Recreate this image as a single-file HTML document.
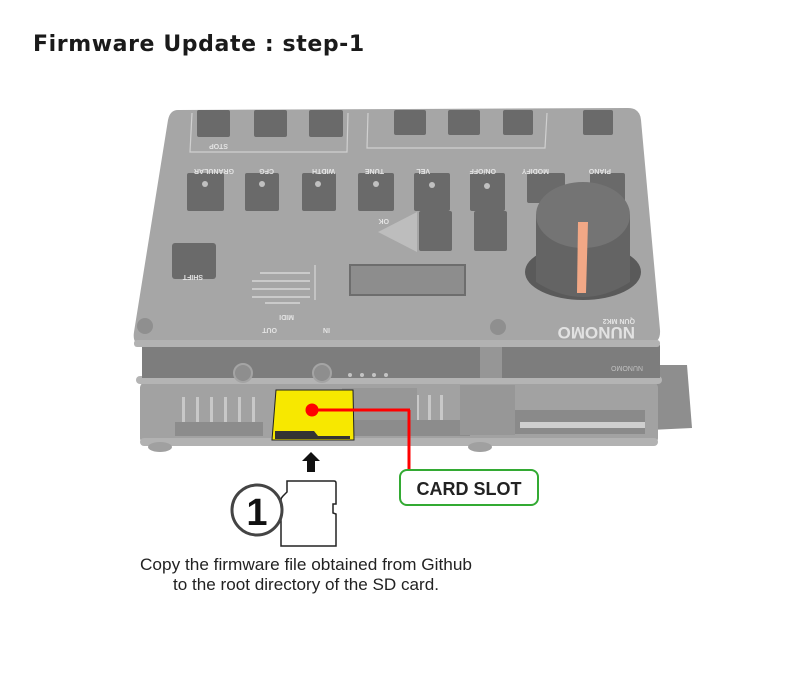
<!DOCTYPE html>
<html><head><meta charset="utf-8"><style>
body{margin:0;background:#fff;width:800px;height:676px;overflow:hidden;font-family:"Liberation Sans",sans-serif}
</style></head><body>
<svg width="800" height="676" viewBox="0 0 800 676" xmlns="http://www.w3.org/2000/svg">
<text x="33" y="51" font-family="DejaVu Sans, Liberation Sans, sans-serif" font-weight="bold" font-size="22" fill="#1a1a1a" letter-spacing="0.6">Firmware Update : step-1</text>

<!-- extension board right -->
<polygon points="650,365 687,365 692,428 650,430" fill="#8e8e8e"/>
<!-- lower board -->
<rect x="140" y="382" width="518" height="62" rx="6" fill="#a2a2a2"/>
<rect x="140" y="438" width="518" height="8" rx="4" fill="#b2b2b2"/>
<ellipse cx="160" cy="447" rx="12" ry="5" fill="#a0a0a0"/>
<ellipse cx="480" cy="447" rx="12" ry="5" fill="#a0a0a0"/>
<!-- pins -->
<g fill="#c8c8c8">
<rect x="182" y="397" width="3" height="28"/><rect x="196" y="397" width="3" height="28"/><rect x="210" y="397" width="3" height="28"/><rect x="224" y="397" width="3" height="28"/><rect x="238" y="397" width="3" height="28"/><rect x="252" y="397" width="3" height="28"/>
<rect x="402" y="395" width="3" height="28"/><rect x="416" y="395" width="3" height="28"/><rect x="428" y="395" width="3" height="28"/><rect x="440" y="395" width="3" height="28"/>
</g>
<rect x="175" y="422" width="88" height="14" fill="#8c8c8c"/>
<rect x="345" y="420" width="125" height="16" fill="#8c8c8c"/>
<rect x="342" y="388" width="75" height="32" fill="#979797"/>
<rect x="460" y="385" width="55" height="50" fill="#979797"/>
<rect x="515" y="410" width="130" height="24" fill="#8a8a8a"/>
<rect x="520" y="422" width="125" height="6" fill="#cfcfcf"/>
<!-- middle plate -->
<rect x="136" y="376" width="526" height="8" rx="4" fill="#b4b4b4"/>
<rect x="142" y="345" width="518" height="33" fill="#7d7d7d"/>
<rect x="480" y="345" width="22" height="33" fill="#969696"/>
<circle cx="243" cy="373" r="9" fill="#8e8e8e" stroke="#a4a4a4" stroke-width="2"/>
<circle cx="322" cy="373" r="9" fill="#8e8e8e" stroke="#a4a4a4" stroke-width="2"/>
<g fill="#c4c4c4"><circle cx="350" cy="375" r="2"/><circle cx="362" cy="375" r="2"/><circle cx="374" cy="375" r="2"/><circle cx="386" cy="375" r="2"/></g>
<text x="617" y="370" font-size="7" fill="#c0c0c0" transform="rotate(180 630 368)">NUNOMO</text>
<!-- top plate -->
<path d="M178,110 L628,108 Q640,108 641,120 L660,330 Q661,344 648,344 L143,345 Q132,345 134,332 L168,120 Q170,110 178,110Z" fill="#a6a6a6"/>
<rect x="134" y="340" width="526" height="7" rx="3" fill="#b2b2b2"/>
<circle cx="145" cy="326" r="8" fill="#8f8f8f"/><circle cx="498" cy="327" r="8" fill="#8f8f8f"/>
<!-- button outlines -->
<g fill="none" stroke="#d0d0d0" stroke-width="1.2">
<path d="M192,113 L190,152 L347,152 L348,113"/>
<path d="M368,113 L367,148 L545,148 L547,113"/>
</g>
<g fill="#6a6a6a">
<rect x="197" y="110" width="33" height="27" rx="2"/><rect x="254" y="110" width="33" height="27" rx="2"/><rect x="309" y="110" width="34" height="27" rx="2"/>
<rect x="394" y="110" width="32" height="25" rx="2"/><rect x="448" y="110" width="32" height="25" rx="2"/><rect x="503" y="110" width="30" height="25" rx="2"/><rect x="583" y="110" width="30" height="25" rx="2"/>
<rect x="187" y="173" width="37" height="38" rx="2"/><rect x="245" y="173" width="34" height="38" rx="2"/><rect x="302" y="173" width="34" height="38" rx="2"/><rect x="358" y="173" width="36" height="38" rx="2"/><rect x="414" y="173" width="36" height="38" rx="2"/><rect x="470" y="173" width="35" height="38" rx="2"/>
<rect x="527" y="173" width="38" height="30" rx="2"/><rect x="590" y="173" width="35" height="30" rx="2"/>
<rect x="419" y="211" width="33" height="40" rx="2"/><rect x="474" y="211" width="33" height="40" rx="2"/>
<rect x="172" y="243" width="44" height="36" rx="3"/>
</g>
<g fill="#c0c0c0"><circle cx="205" cy="184" r="3"/><circle cx="262" cy="184" r="3"/><circle cx="318" cy="184" r="3"/><circle cx="376" cy="184" r="3"/><circle cx="432" cy="185" r="3"/><circle cx="487" cy="186" r="3"/></g>
<polygon points="417,212 417,252 378,232" fill="#bdbdbd"/>
<rect x="350" y="265" width="115" height="30" fill="#8d8d8d" stroke="#6d6d6d" stroke-width="2"/>
<line x1="315" y1="265" x2="315" y2="300" stroke="#e0e0e0" stroke-width="1"/>
<g font-size="7" font-weight="bold" fill="#e4e4e4">
<text transform="rotate(180 214 147)" x="200" y="150">STOP</text>
<text transform="rotate(180 210 172)" x="186" y="175">GRANULAR</text>
<text transform="rotate(180 264 172)" x="254" y="175">CFG</text>
<text transform="rotate(180 320 172)" x="305" y="175">WIDTH</text>
<text transform="rotate(180 373 172)" x="362" y="175">TUNE</text>
<text transform="rotate(180 421 172)" x="412" y="175">VEL</text>
<text transform="rotate(180 479 172)" x="462" y="175">ON/OFF</text>
<text transform="rotate(180 532 172)" x="515" y="175">MODIFY</text>
<text transform="rotate(180 598 172)" x="585" y="175">PIANO</text>
<text transform="rotate(180 383 222)" x="377" y="225">OK</text>
<text transform="rotate(180 190 278)" x="177" y="281">SHIFT</text>
<text transform="rotate(180 265 331)" x="253" y="334">OUT</text>
<text transform="rotate(180 324 331)" x="318" y="334">IN</text>
<text transform="rotate(180 286 318)" x="278" y="321">MIDI</text>
<text transform="rotate(180 620 322)" x="605" y="325">QUN MK2</text>
</g>
<text transform="rotate(180 590 333)" x="545" y="339" font-size="17" font-weight="bold" fill="#e2e2e2">NUNOMO</text>
<g stroke="#e0e0e0" stroke-width="1.3"><line x1="252" y1="297" x2="310" y2="297"/><line x1="252" y1="289" x2="310" y2="289"/><line x1="252" y1="281" x2="310" y2="281"/><line x1="260" y1="273" x2="310" y2="273"/><line x1="265" y1="303" x2="300" y2="303"/></g>
<!-- knob -->
<ellipse cx="583" cy="272" rx="58" ry="28" fill="#5a5a5a"/>
<path d="M536,215 L536,282 Q583,312 630,282 L630,215Z" fill="#646464"/>
<ellipse cx="583" cy="215" rx="47" ry="33" fill="#747474"/>
<polygon points="578,222 588,222 586,293 577,293" fill="#f2a886"/>
<!-- card -->
<polygon points="276,390 353,390 354,440 272,440" fill="#f7e800" stroke="#222" stroke-width="1"/>
<polygon points="275,431 314,431 318,436 350,436 350,439 275,439" fill="#333"/>
<line x1="312" y1="410" x2="410" y2="410" stroke="#f00" stroke-width="3"/>
<line x1="409" y1="410" x2="409" y2="470" stroke="#f00" stroke-width="3"/>
<circle cx="312" cy="410" r="6.5" fill="#f00"/>
<rect x="400" y="470" width="138" height="35" rx="7" fill="#fff" stroke="#33aa33" stroke-width="2"/>
<text x="469" y="495" text-anchor="middle" font-size="18" font-weight="bold" fill="#222">CARD SLOT</text>
<!-- arrow -->
<polygon points="311,452 320,461 315,461 315,472 307,472 307,461 302,461" fill="#111"/>
<!-- sd card -->
<path d="M287,481 L334,481 Q336,481 336,483 L336,504 L333,504 L333,513 L336,514 L336,546 L281,546 L281,500 Q281,498 283,496 L287,492Z" fill="#fff" stroke="#222" stroke-width="1.5"/>
<circle cx="257" cy="510" r="25" fill="#fff" stroke="#444" stroke-width="3"/>
<text x="257" y="525" text-anchor="middle" font-size="38" font-weight="bold" fill="#111">1</text>
<text x="306" y="570" text-anchor="middle" font-size="16.5" fill="#222" textLength="332" lengthAdjust="spacingAndGlyphs">Copy the firmware file obtained from Github</text>
<text x="306" y="590" text-anchor="middle" font-size="16.5" fill="#222" textLength="266" lengthAdjust="spacingAndGlyphs">to the root directory of the SD card.</text>
</svg>
</body></html>
